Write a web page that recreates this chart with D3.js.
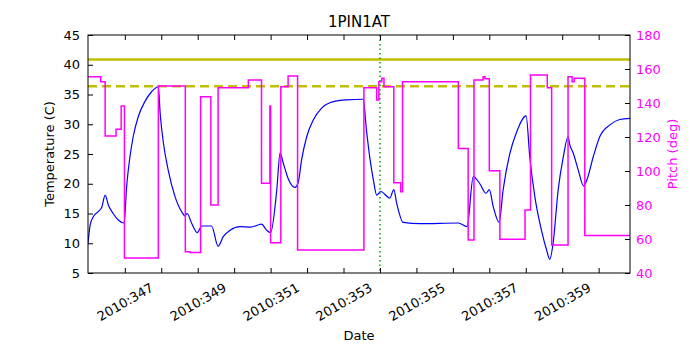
<!DOCTYPE html>
<html>
<head>
<meta charset="utf-8">
<script src="https://cdn.jsdelivr.net/npm/d3@7"></script>
<style>
  body { margin: 0; background: #fff; }
  text { font-family: "DejaVu Sans", sans-serif; }
</style>
</head>
<body>
<svg id="vis-svg" width="700" height="350"></svg>
<script>
var width  = 700;
var height = 350;
var margin = { top: 35, bottom: 77, left: 88, right: 70 };
const graphWidth = width - margin.left - margin.right;
const graphHeight = height - margin.top - margin.bottom;

// day of year 2010 (fractional) and temperature (C)
const tempDays = [345.99,346.05,346.14,346.27,346.37,346.46,346.55,346.68,346.82,346.98,
  347.05,347.14,347.23,347.37,347.55,347.74,347.92,347.97,348.06,348.19,348.38,348.56,348.65,
  348.71,348.83,348.99,349.11,349.38,349.56,349.70,349.89,350.16,350.45,350.75,350.89,351.00,
  351.17,351.26,351.35,351.48,351.67,351.76,351.85,351.99,352.17,352.40,352.72,353.09,353.54,
  353.63,353.73,353.82,353.91,354.02,354.27,354.38,354.46,354.64,355.10,356.15,356.39,356.56,
  356.74,356.91,357.00,357.11,357.27,357.38,357.56,357.75,358.01,358.11,358.25,358.43,358.57,
  358.66,358.75,358.89,359.03,359.16,359.21,359.30,359.44,359.59,359.69,359.85,360.03,360.31,
  360.58,360.86];
const tempValues = [10.0,13.1,14.5,15.3,16.1,18.1,16.4,15.0,13.9,13.4,
  19.5,24.5,27.9,31.3,33.8,35.5,36.3,31.8,26.8,22.3,17.8,15.3,14.6,
  15.0,13.4,11.8,12.9,12.9,9.5,11.1,12.2,12.8,12.7,13.2,12.2,11.8,
  19.0,25.2,23.4,20.9,19.4,20.3,24.0,27.9,30.7,32.7,33.8,34.1,34.2,
  29.0,24.0,20.6,18.1,18.7,17.6,19.0,16.7,13.5,13.3,13.4,12.8,21.2,
  20.0,18.4,19.0,16.1,13.5,19.0,25.0,28.7,31.4,24.5,17.8,12.2,8.9,
  7.3,10.0,19.0,24.5,27.9,26.5,25.2,22.3,19.6,20.9,24.5,27.9,29.9,
  30.8,31.0];

// pitch (deg), each value holds from its day until the next one
const pitchDays = [345.99,346.34,346.46,346.76,346.90,346.99,347.92,348.66,348.79,349.08,
  349.36,349.56,350.39,350.75,350.98,351.00,351.28,351.48,351.74,353.56,353.91,353.97,354.05,
  354.11,354.38,354.57,354.62,356.15,356.42,356.58,356.83,356.88,357.00,357.29,357.98,358.13,
  358.59,358.71,359.16,359.27,359.33,359.62,360.86];
const pitchValues = [155.5,152.5,120.6,124.5,138.2,48.8,150.0,52.5,52.0,143.7,
  80.0,149.0,153.5,92.8,138.2,57.8,149.6,155.9,53.5,149.0,141.8,152.5,154.5,
  149.6,93.1,87.8,152.5,113.3,59.4,153.5,155.5,154.3,100.2,59.8,77.0,156.5,
  149.0,56.5,155.5,152.5,154.5,62.0,62.0];

const limitSolid = 40.9;   // temperature (C)
const limitDashed = 36.4;  // temperature (C)
const markerDay = 354.0;

const xDomain = [345.99, 360.86];
const tempDomain = [5, 45];
const pitchDomain = [40, 180];
const tempTicks = [5,10,15,20,25,30,35,40,45];
const pitchTicks = [40,60,80,100,120,140,160,180];
const dayTicks = d3.range(347, 361);
const dayLabels = [347,349,351,353,355,357,359];

const svg = d3.select("#vis-svg");
const graph = svg.append("g").attr("transform", `translate(${margin.left},${margin.top})`);

var x = d3.scaleLinear().domain(xDomain).range([0, graphWidth]);
var yT = d3.scaleLinear().domain(tempDomain).range([graphHeight, 0]);
var yP = d3.scaleLinear().domain(pitchDomain).range([graphHeight, 0]);

graph.append("clipPath").attr("id", "clip")
  .append("rect").attr("width", graphWidth).attr("height", graphHeight);

const plot = graph.append("g").attr("clip-path", "url(#clip)");

// temperature
var tempLine = d3.line()
  .x(d => x(d[0])).y(d => yT(d[1]))
  .curve(d3.curveMonotoneX);
plot.append("path")
  .datum(tempDays.map((d, i) => [d, tempValues[i]]))
  .attr("fill", "none").attr("stroke", "#0000ff").attr("stroke-width", 1.2)
  .attr("d", tempLine);

// limits
plot.append("line")
  .attr("x1", 0).attr("x2", graphWidth)
  .attr("y1", yT(limitSolid)).attr("y2", yT(limitSolid))
  .attr("stroke", "#bfbf00").attr("stroke-width", 2.5);
plot.append("line")
  .attr("x1", 0).attr("x2", graphWidth)
  .attr("y1", yT(limitDashed)).attr("y2", yT(limitDashed))
  .attr("stroke", "#bfbf00").attr("stroke-width", 2.5)
  .attr("stroke-dasharray", "9,5");

// now marker
plot.append("line")
  .attr("x1", x(markerDay)).attr("x2", x(markerDay))
  .attr("y1", 0).attr("y2", graphHeight)
  .attr("stroke", "#00a000").attr("stroke-width", 1.5)
  .attr("stroke-dasharray", "1.5,3");

// pitch
var pitchLine = d3.line()
  .x(d => x(d[0])).y(d => yP(d[1]))
  .curve(d3.curveStepAfter);
plot.append("path")
  .datum(pitchDays.map((d, i) => [d, pitchValues[i]]))
  .attr("fill", "none").attr("stroke", "#ff00ff").attr("stroke-width", 1.5)
  .attr("d", pitchLine);

// axes (ticks inward)
const fmt = d => dayLabels.includes(d) ? "2010:" + d : "";
const xBottom = graph.append("g").attr("transform", `translate(0,${graphHeight})`)
  .call(d3.axisBottom(x).tickValues(dayTicks).tickSize(-5).tickFormat(fmt));
xBottom.selectAll("text")
  .attr("font-size", 13).attr("fill", "#000")
  .attr("text-anchor", "middle").attr("dy", null).attr("y", null)
  .attr("dominant-baseline", "central")
  .attr("transform", "translate(0,29) rotate(-30)");
graph.append("g")
  .call(d3.axisTop(x).tickValues(dayTicks).tickSize(-5).tickFormat(""));

const yLeft = graph.append("g")
  .call(d3.axisLeft(yT).tickValues(tempTicks).tickSize(-5).tickPadding(8));
yLeft.selectAll("text").attr("font-size", 13).attr("fill", "#000");

const yRight = graph.append("g").attr("transform", `translate(${graphWidth},0)`)
  .call(d3.axisRight(yP).tickValues(pitchTicks).tickSize(-5).tickPadding(6));
yRight.selectAll("text").attr("font-size", 13).attr("fill", "#ff00ff");

graph.selectAll(".domain").remove();
graph.selectAll(".tick line").attr("stroke", "#000");

graph.append("rect")
  .attr("width", graphWidth).attr("height", graphHeight)
  .attr("fill", "none").attr("stroke", "#000").attr("stroke-width", 1);

// labels
svg.append("text").attr("x", margin.left + graphWidth / 2).attr("y", 27)
  .attr("text-anchor", "middle").attr("font-size", 15).text("1PIN1AT");
svg.append("text").attr("x", margin.left + graphWidth / 2).attr("y", 340)
  .attr("text-anchor", "middle").attr("font-size", 13).text("Date");
svg.append("text")
  .attr("transform", `translate(54,${margin.top + graphHeight / 2}) rotate(-90)`)
  .attr("text-anchor", "middle").attr("font-size", 13).text("Temperature (C)");
svg.append("text")
  .attr("transform", `translate(677,${margin.top + graphHeight / 2}) rotate(-90)`)
  .attr("text-anchor", "middle").attr("font-size", 13).attr("fill", "#ff00ff")
  .text("Pitch (deg)");
</script>
</body>
</html>
